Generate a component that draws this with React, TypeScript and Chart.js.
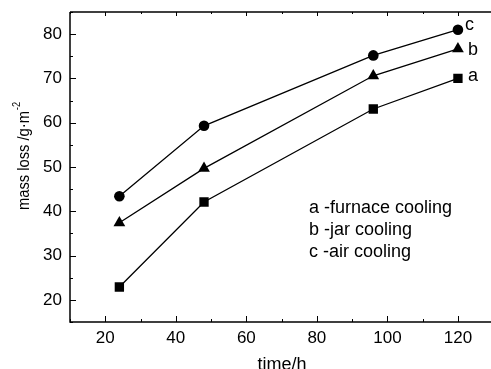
import React, { useEffect, useRef } from "react";
import { Chart, registerables } from "chart.js";

Chart.register(...registerables);

const times = [24, 48, 96, 120];
const furnaceCooling = [22.9, 42.1, 63.1, 70.0];
const jarCooling = [37.4, 49.7, 70.6, 76.7];
const airCooling = [43.4, 59.3, 75.2, 81.0];
const seriesTags = ["a", "b", "c"];
const legendLines = ["a -furnace cooling", "b -jar cooling", "c -air cooling"];
const xTickValues = [20, 40, 60, 80, 100, 120];
const xMinorValues = [10, 30, 50, 70, 90, 110, 130];
const yTickValues = [20, 30, 40, 50, 60, 70, 80];
const yMinorValues = [15, 25, 35, 45, 55, 65, 75, 85];

const FONT = "'Liberation Sans', Arial, Helvetica, sans-serif";

const toPoints = (ys: number[]) => times.map((t, i) => ({ x: t, y: ys[i] }));

const framePlugin = {
  id: "frame",
  afterDraw(chart: any) {
    const { ctx, chartArea } = chart;
    const xs = chart.scales.x;
    const ys = chart.scales.y;
    const { left, right, top, bottom } = chartArea;
    ctx.save();
    ctx.strokeStyle = "#000";
    ctx.lineWidth = 1.5;
    ctx.beginPath();
    ctx.moveTo(left, top);
    ctx.lineTo(left, bottom);
    ctx.lineTo(right + 10, bottom);
    ctx.moveTo(left, top);
    ctx.lineTo(right + 10, top);
    ctx.stroke();
    ctx.lineWidth = 1;
    ctx.beginPath();
    xTickValues.forEach((v) => {
      const p = Math.round(xs.getPixelForValue(v)) + 0.5;
      ctx.moveTo(p, bottom);
      ctx.lineTo(p, bottom - 6);
      ctx.moveTo(p, top);
      ctx.lineTo(p, top + 4);
    });
    xMinorValues.forEach((v) => {
      const p = Math.round(xs.getPixelForValue(v)) + 0.5;
      ctx.moveTo(p, bottom);
      ctx.lineTo(p, bottom - 3);
      ctx.moveTo(p, top);
      ctx.lineTo(p, top + 2);
    });
    yTickValues.forEach((v) => {
      const p = Math.round(ys.getPixelForValue(v)) + 0.5;
      ctx.moveTo(left, p);
      ctx.lineTo(left + 6, p);
    });
    yMinorValues.forEach((v) => {
      const p = Math.round(ys.getPixelForValue(v)) + 0.5;
      ctx.moveTo(left, p);
      ctx.lineTo(left + 3, p);
    });
    ctx.stroke();

    // series tags next to last points
    ctx.fillStyle = "#000";
    ctx.font = `18px ${FONT}`;
    ctx.textBaseline = "alphabetic";
    ctx.textAlign = "left";
    const last = times.length - 1;
    const tagOffsets = [
      [10, 2.5],
      [10, 6],
      [7, 0],
    ];
    [furnaceCooling, jarCooling, airCooling].forEach((ser, i) => {
      const px = xs.getPixelForValue(times[last]);
      const py = ys.getPixelForValue(ser[last]);
      ctx.fillText(seriesTags[i], px + tagOffsets[i][0], py + tagOffsets[i][1]);
    });

    // legend text
    ctx.font = `18px ${FONT}`;
    legendLines.forEach((line, i) => {
      ctx.fillText(line, 309, 213 + i * 22);
    });

    // x title
    ctx.textAlign = "center";
    ctx.font = `18px ${FONT}`;
    ctx.fillText("time/h", 282, 370);

    // y title
    ctx.save();
    ctx.translate(29, 156);
    ctx.rotate(-Math.PI / 2);
    ctx.textAlign = "left";
    const main = "mass loss /g\u00B7m";
    ctx.font = `16px ${FONT}`;
    const wMain = ctx.measureText(main).width;
    ctx.font = `10px ${FONT}`;
    const sup = "-2";
    const wSup = ctx.measureText(sup).width;
    const total = wMain + wSup + 1;
    const k = 108 / total;
    ctx.scale(k, 1);
    const start = -total / 2;
    ctx.font = `16px ${FONT}`;
    ctx.fillText(main, start, 0);
    ctx.font = `10px ${FONT}`;
    ctx.fillText(sup, start + wMain + 1, -9);
    ctx.restore();

    ctx.restore();
  },
};

export default function App() {
  const ref = useRef<HTMLCanvasElement | null>(null);
  useEffect(() => {
    if (!ref.current) return;
    const common = {
      borderColor: "#000",
      backgroundColor: "#000",
      pointBackgroundColor: "#000",
      pointBorderColor: "#000",
      borderWidth: 1.3,
      pointBorderWidth: 0,
      showLine: true,
      fill: false,
      tension: 0,
    };
    const chart = new Chart(ref.current, {
      type: "line",
      data: {
        datasets: [
          { ...common, label: legendLines[0], data: toPoints(furnaceCooling), pointStyle: "rect", pointRadius: 6.6 },
          { ...common, label: legendLines[1], data: toPoints(jarCooling), pointStyle: "triangle", pointRadius: 6.8 },
          { ...common, label: legendLines[2], data: toPoints(airCooling), pointStyle: "circle", pointRadius: 5.3 },
        ],
      },
      options: {
        responsive: false,
        animation: false,
        devicePixelRatio: 1,
        layout: { padding: { top: 12, right: 6, left: 0, bottom: 0 } },
        plugins: { legend: { display: false }, tooltip: { enabled: false } },
        scales: {
          x: {
            type: "linear",
            min: 10,
            max: 130,
            grid: { display: false, drawTicks: false },
            border: { display: false },
            afterBuildTicks: (s: any) => {
              s.ticks = xTickValues.map((v) => ({ value: v }));
            },
            afterFit: (s: any) => {
              s.height = 53;
              s.paddingLeft = 0;
              s.paddingRight = 0;
            },
            ticks: { color: "#000", font: { family: FONT, size: 17 }, padding: 6, maxRotation: 0, autoSkip: false },
          },
          y: {
            type: "linear",
            min: 15,
            max: 85,
            grid: { display: false, drawTicks: false },
            border: { display: false },
            afterBuildTicks: (s: any) => {
              s.ticks = yTickValues.map((v) => ({ value: v }));
            },
            afterFit: (s: any) => {
              s.width = 70;
              s.paddingTop = 0;
              s.paddingBottom = 0;
            },
            ticks: { color: "#000", font: { family: FONT, size: 17 }, padding: 8, autoSkip: false },
          },
        },
      },
      plugins: [framePlugin],
    });
    return () => chart.destroy();
  }, []);
  return (
    <div style={{ position: "fixed", left: 0, top: 0, width: 491, height: 369, overflow: "hidden", background: "#fff" }}>
      <canvas ref={ref} width={500} height={375} style={{ display: "block", width: 500, height: 375 }} />
    </div>
  );
}
